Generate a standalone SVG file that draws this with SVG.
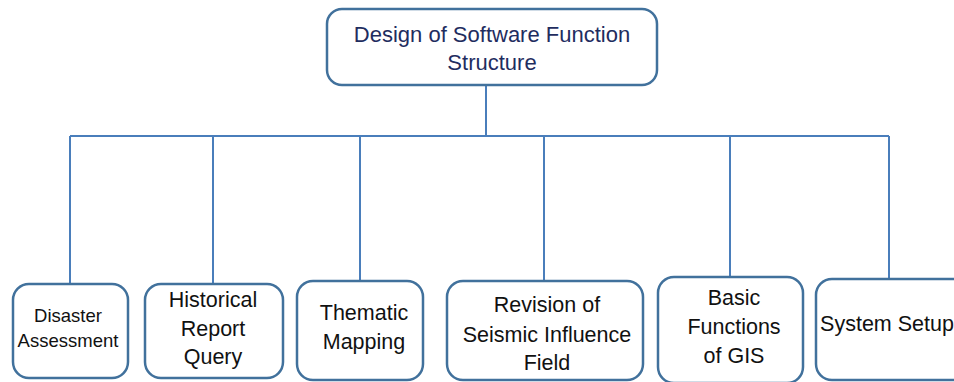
<svg xmlns="http://www.w3.org/2000/svg" width="954" height="382" viewBox="0 0 954 382">
<style>
.box{fill:#fff;stroke:#41719C;stroke-width:2.5}
.con{fill:none;stroke:#4A7EBB;stroke-width:2}
text{font-family:"Liberation Sans",Arial,sans-serif;text-anchor:middle;fill:#111}
.top{fill:#1F2D5F;font-size:22px}
.t{font-size:21.5px}
.s{font-size:18.5px}
</style>
<rect width="954" height="382" fill="#fff"/>
<g id="connectors">
<path class="con" d="M486 85V136M70 136H889M70 136V284M213 136V284M360 136V281M544 136V281M730 136V277M889 136V279"/>
</g>
<g id="root">
<rect class="box" x="327" y="9" width="330" height="76" rx="15"/>
<text class="top" x="492" y="42">Design of Software Function</text>
<text class="top" x="492" y="70">Structure</text>
</g>
<g id="disaster">
<rect class="box" x="13" y="284" width="115" height="94" rx="16"/>
<text class="s" x="68" y="322">Disaster</text>
<text class="s" x="68" y="347">Assessment</text>
</g>
<g id="historical">
<rect class="box" x="145" y="284" width="138" height="94" rx="16"/>
<text class="t" x="213" y="307">Historical</text>
<text class="t" x="213" y="336">Report</text>
<text class="t" x="213" y="364">Query</text>
</g>
<g id="thematic">
<rect class="box" x="297" y="281" width="126" height="99" rx="16"/>
<text class="t" x="364" y="320">Thematic</text>
<text class="t" x="364" y="349">Mapping</text>
</g>
<g id="revision">
<rect class="box" x="447" y="281" width="196" height="99" rx="16"/>
<text class="t" x="547" y="312">Revision of</text>
<text class="t" x="547" y="342">Seismic Influence</text>
<text class="t" x="547" y="370">Field</text>
</g>
<g id="gis">
<rect class="box" x="658" y="277" width="145" height="106" rx="16"/>
<text class="t" x="734" y="305">Basic</text>
<text class="t" x="734" y="334">Functions</text>
<text class="t" x="734" y="363">of GIS</text>
</g>
<g id="setup">
<rect class="box" x="816" y="279" width="160" height="101" rx="16"/>
<text class="t" x="887" y="331">System Setup</text>
</g>
</svg>
